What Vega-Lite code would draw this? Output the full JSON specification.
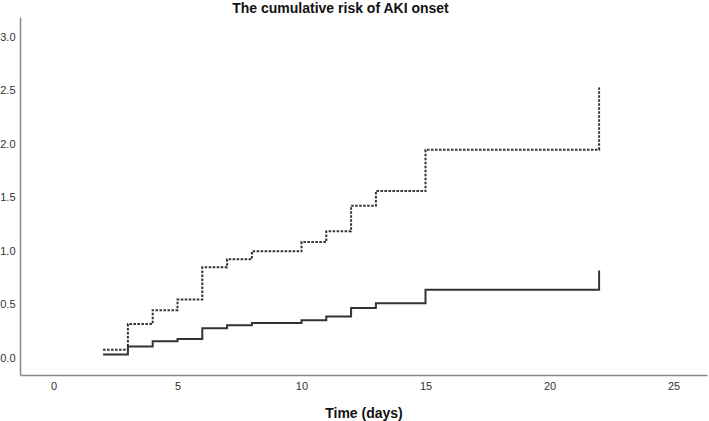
{
  "$schema": "https://vega.github.io/schema/vega-lite/v6.json",
  "autosize": {"type": "none"},
  "padding": {"left": 20, "top": 17, "right": 2, "bottom": 46},
  "width": 687,
  "height": 358,
  "background": "white",
  "title": {
    "text": "The cumulative risk of AKI onset",
    "font": "Liberation Sans",
    "fontSize": 14,
    "fontWeight": "bold",
    "color": "#111",
    "anchor": "middle",
    "dx": -23,
    "offset": 1
  },
  "config": {
    "view": {"stroke": null},
    "axis": {"font": "Liberation Sans"}
  },
  "data": {
    "values": [
      {"group": "solid", "day": 2, "risk": 0.035},
      {"group": "solid", "day": 3, "risk": 0.11},
      {"group": "solid", "day": 4, "risk": 0.16},
      {"group": "solid", "day": 5, "risk": 0.18},
      {"group": "solid", "day": 6, "risk": 0.28},
      {"group": "solid", "day": 7, "risk": 0.31},
      {"group": "solid", "day": 8, "risk": 0.33},
      {"group": "solid", "day": 10, "risk": 0.355},
      {"group": "solid", "day": 11, "risk": 0.39},
      {"group": "solid", "day": 12, "risk": 0.47},
      {"group": "solid", "day": 13, "risk": 0.515},
      {"group": "solid", "day": 15, "risk": 0.64},
      {"group": "solid", "day": 22, "risk": 0.82},
      {"group": "dashed", "day": 2, "risk": 0.08},
      {"group": "dashed", "day": 3, "risk": 0.32},
      {"group": "dashed", "day": 4, "risk": 0.45},
      {"group": "dashed", "day": 5, "risk": 0.55},
      {"group": "dashed", "day": 6, "risk": 0.85},
      {"group": "dashed", "day": 7, "risk": 0.925},
      {"group": "dashed", "day": 8, "risk": 1.0},
      {"group": "dashed", "day": 10, "risk": 1.087},
      {"group": "dashed", "day": 11, "risk": 1.187},
      {"group": "dashed", "day": 12, "risk": 1.425},
      {"group": "dashed", "day": 13, "risk": 1.563},
      {"group": "dashed", "day": 15, "risk": 1.95},
      {"group": "dashed", "day": 22, "risk": 2.53}
    ]
  },
  "mark": {"type": "line", "interpolate": "step-after", "strokeWidth": 2, "color": "#333", "clip": false},
  "encoding": {
    "x": {
      "field": "day",
      "type": "quantitative",
      "scale": {"domain": [-1.35, 26.35], "nice": false, "zero": false},
      "axis": {
        "values": [0, 5, 10, 15, 20, 25],
        "title": "Time (days)",
        "titleFontSize": 14,
        "titleFontWeight": "bold",
        "titleColor": "#111",
        "titlePadding": 15,
        "titleFont": "Liberation Sans",
        "ticks": false,
        "grid": false,
        "labelFontSize": 11,
        "labelColor": "#333",
        "labelPadding": 5,
        "domainColor": "#888",
        "domainWidth": 1.5
      }
    },
    "y": {
      "field": "risk",
      "type": "quantitative",
      "scale": {"domain": [-0.156, 3.19], "nice": false, "zero": false},
      "axis": {
        "values": [0, 0.5, 1, 1.5, 2, 2.5, 3],
        "format": ".1f",
        "title": null,
        "ticks": false,
        "grid": false,
        "labelFontSize": 11,
        "labelColor": "#333",
        "labelPadding": 5,
        "domainColor": "#888",
        "domainWidth": 1.5
      }
    },
    "strokeDash": {
      "field": "group",
      "type": "nominal",
      "scale": {"domain": ["solid", "dashed"], "range": [[1, 0], [2.5, 1.5]]},
      "legend": null
    }
  }
}
